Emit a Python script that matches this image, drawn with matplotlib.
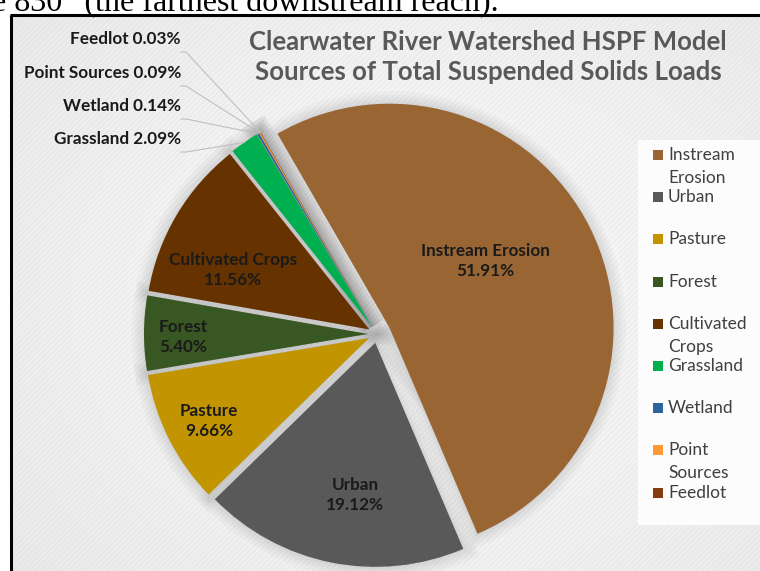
import numpy as np
import matplotlib
matplotlib.use('Agg')
import matplotlib.pyplot as plt
from matplotlib.patches import Rectangle

# data
sources = ['Instream Erosion', 'Urban', 'Pasture', 'Forest', 'Cultivated Crops',
           'Grassland', 'Wetland', 'Point Sources', 'Feedlot']
percent = [51.91, 19.12, 9.66, 5.40, 11.56, 2.09, 0.14, 0.09, 0.03]
legend_names = ['Instream\nErosion', 'Urban', 'Pasture', 'Forest', 'Cultivated\nCrops',
                'Grassland', 'Wetland', 'Point\nSources', 'Feedlot']
colors = ['#996633', '#595959', '#c29500', '#385723', '#663300',
          '#00b050', '#2e63a0', '#ff9933', '#843c0c']

W, H = 760, 571
def Y(y):
    # pixel row (from top) -> data y
    return H - y

plt.rcParams['font.family'] = ['Lato', 'DejaVu Sans']
fig = plt.figure(figsize=(7.6, 5.71), dpi=100)
ax = fig.add_axes([0, 0, 1, 1])

# chart area background (soft gradient + faint hatch)
gx, gy = np.meshgrid(np.linspace(11, 775, 240), np.linspace(15, 580, 180))
d = np.hypot((gx - 420) / 520, (gy - 300) / 420)
bg = 0.985 - 0.07 * d
ax.imshow(bg, cmap='gray', vmin=0, vmax=1, extent=(11, 775, Y(580), Y(15)),
          zorder=0, aspect='auto', interpolation='bilinear')
plt.rcParams['hatch.linewidth'] = 0.4
ax.add_patch(Rectangle((11, Y(580)), 770, 565, fill=False, hatch='//////',
                       edgecolor=(0.7, 0.7, 0.7, 0.22), lw=0, zorder=0.5))
# legend panel
ax.add_patch(Rectangle((638, Y(525)), 122, 385, color='#fcfcfc', lw=0, zorder=0.6))

# frame
ax.plot([11, 11], [Y(15), Y(600)], color='k', lw=2.2, zorder=5, solid_capstyle='butt')
ax.plot([10, 800], [Y(15), Y(15)], color='k', lw=2.2, zorder=5, solid_capstyle='butt')

# cut-off document text above the chart
ax.text(-8, Y(11), 'e 830\u201d (the farthest downstream reach).', fontsize=23,
        family=['Liberation Serif', 'DejaVu Serif'], ha='left', va='baseline', color='k')

R = 224
C = (377, Y(334))
explode = [14] + [9] * 8  # in pixels

# soft shadow
for lw in [18, 13, 9, 5, 2]:
    ax.pie(percent, explode=explode, startangle=120, counterclock=False, radius=R,
           center=C, colors=['#7f7f7f'] * len(percent), frame=False,
           wedgeprops=dict(linewidth=lw, edgecolor='#7f7f7f', alpha=0.05))

wedges, _ = ax.pie(percent, explode=explode, startangle=120, counterclock=False,
                   radius=R, center=C, colors=colors, frame=False,
                   wedgeprops=dict(linewidth=0))

# inside labels
inside_xy = {0: (485, 261), 1: (355, 495), 2: (209, 421), 3: (183, 337), 4: (233, 270)}
for i, (x, y) in inside_xy.items():
    ax.text(x, Y(y), f'{sources[i]}\n{percent[i]:.2f}%', ha='center', va='center',
            fontsize=12.3, fontweight='bold', color='#1a1a1a', linespacing=1.3, zorder=6)

# outside labels with leader lines
outside_y = {5: 139, 6: 106, 7: 73, 8: 39}
for i, y in outside_y.items():
    ax.text(181, Y(y), f'{sources[i]} {percent[i]:.2f}%', ha='right', va='center',
            fontsize=12.3, fontweight='bold', color='#1a1a1a', zorder=6)
    w = wedges[i]
    t = np.deg2rad((w.theta1 + w.theta2) / 2)
    px = w.center[0] + w.r * np.cos(t)
    py = w.center[1] + w.r * np.sin(t)
    ax.plot([181, 186, px], [Y(y + 13), Y(y + 13), py], color='#bfbfbf', lw=0.8, zorder=4)

# title
ax.text(488, Y(42), 'Clearwater River Watershed HSPF Model', ha='center', va='center',
        fontsize=18.5, fontweight='bold', color='#595959')
ax.text(488, Y(72), 'Sources of Total Suspended Solids Loads', ha='center', va='center',
        fontsize=18.5, fontweight='bold', color='#595959')

# legend
for i, name in enumerate(legend_names):
    y0 = 155 + i * 42.2
    ax.scatter([658], [Y(y0)], marker='s', s=55, color=colors[i], zorder=6, linewidths=0)
    for j, line in enumerate(name.split('\n')):
        ax.text(668, Y(y0 + j * 23), line, ha='left', va='center', fontsize=12.5,
                color='#404040', zorder=6)

ax.set_xlim(0, W)
ax.set_ylim(0, H)
ax.set_aspect('auto')
ax.axis('off')
fig.savefig('out.png', dpi=100, facecolor='white')
